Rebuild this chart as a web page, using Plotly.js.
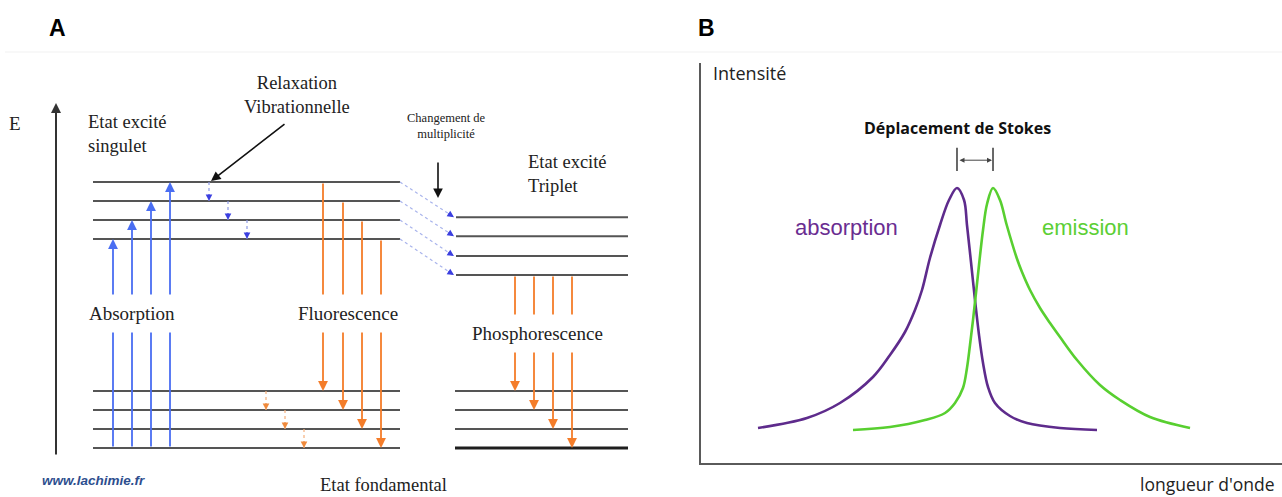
<!DOCTYPE html>
<html><head><meta charset="utf-8">
<script src="https://cdn.plot.ly/plotly-3.0.1.min.js"></script>
<style>html,body{margin:0;padding:0;background:#fff}#chart{width:1282px;height:497px}</style>
</head><body><div id="chart"></div>
<script>
// ---------------- DATA : panel A (energies in vibrational quanta) ----------------
const S0_levels = [0, 1, 2, 3];            // état fondamental
const S1_levels = [11, 12, 13, 14];        // état excité singulet
const T1_levels = [9.1, 10.1, 11.15, 12.15]; // état excité triplet
const absorption_to = [0, 1, 2, 3];        // S0 v0 -> S1 v
const fluorescence_from = [3, 2, 1, 0];    // S1 v -> S0 v
const fluorescence_to = [3, 2, 1, 0];
const phosphorescence_to = [3, 2, 1, 0];   // T1 v0 -> S0 v
const relaxation_from = [3, 2, 1];
const relaxation_to = [2, 1, 0];
const isc_from = [3, 2, 1, 0];             // S1 v -> T1 v
const isc_to = [3, 2, 1, 0];

// ---------------- DATA : panel B (arbitrary units) ----------------
const wavelength_abs = [9.81, 18.24, 23.92, 29.60, 32.53, 35.11, 36.83, 38.04, 39.41, 41.14, 42.69, 44.06,
                        45.27, 45.78, 46.47, 47.16, 47.85, 48.54, 49.40, 50.60, 53.18, 56.11, 61.79, 68.16];
const intensity_abs  = [8.75, 11.25, 15.0, 21.5, 27.0, 32.75, 38.25, 43.25, 51.25, 59.5, 65.75, 68.75,
                        65.75, 59.5, 50.25, 40.75, 32.0, 25.0, 19.0, 15.0, 11.75, 10.0, 8.75, 8.25];
const wavelength_em  = [26.16, 32.53, 38.55, 42.0, 43.72, 45.09, 45.78, 46.30, 46.82, 47.33, 47.85, 48.54, 49.23, 50.26,
                        51.46, 52.62, 54.34, 55.25, 56.63, 58.35, 60.07, 61.79, 64.72, 68.67, 72.12, 77.28, 84.17];
const intensity_em   = [8.25, 9.0, 10.75, 12.5, 15.0, 18.75, 23.75, 29.5, 35.75, 42.5, 49.5, 58.25, 64.75, 68.75,
                        65.75, 59.5, 51.25, 47.75, 43.25, 38.75, 35.0, 31.5, 25.75, 19.5, 15.75, 11.5, 8.75];

// ---------------- LAYOUT CONSTANTS (not data) ----------------
const W = 1282, H = 497;
const eOf = py => (448 - py) / 19;          // page pixel row -> energy axis value (layout helper)
const P = (x, y) => ({x: x / W, y: 1 - y / H});
const pos = {
  leftStart: 93, leftEnd: 400, rightStart: 456, rightEnd: 628,
  absX: [113, 132, 151, 170], fluoX: [323, 343, 362, 381], phosX: [515, 534, 553, 572],
  relaxS1X: [209, 228, 247], relaxS0X: [266, 285, 304], eAxisX: 56
};
const BLUE = '#4a6ef2', ORANGE = '#f47d2a', LEVEL = '#555555';
const SERIF = 'Liberation Serif, Times New Roman, serif';
const SANS = 'Liberation Sans, Arial, sans-serif';
const OPEN = 'Open Sans, Liberation Sans, sans-serif';

const traces = [];
function levelTrace(levels, x0, x1, width, color) {
  const xs = [], ys = [];
  levels.forEach(e => { xs.push(x0, x1, null); ys.push(e, e, null); });
  return {x: xs, y: ys, mode: 'lines', line: {color: color, width: width}, xaxis: 'x', yaxis: 'y', hoverinfo: 'skip'};
}
traces.push(levelTrace(S1_levels, pos.leftStart, pos.leftEnd, 2, LEVEL));
traces.push(levelTrace(S0_levels, pos.leftStart, pos.leftEnd, 2, LEVEL));
traces.push(levelTrace(T1_levels, pos.rightStart, pos.rightEnd, 2, LEVEL));
traces.push(levelTrace(S0_levels.slice(1), pos.rightStart - 1, pos.rightEnd, 2, LEVEL));
traces.push(levelTrace([S0_levels[0]], pos.rightStart - 1, pos.rightEnd, 3, '#1e1e1e'));

function dotted(segs, color) {
  const xs = [], ys = [];
  segs.forEach(s => { xs.push(s[0], s[2], null); ys.push(s[1], s[3], null); });
  return {x: xs, y: ys, mode: 'lines', line: {color: color, width: 1.2, dash: 'dot'}, xaxis: 'x', yaxis: 'y', hoverinfo: 'skip'};
}
traces.push(dotted(relaxation_from.map((f, i) => [pos.relaxS1X[i], S1_levels[f], pos.relaxS1X[i], S1_levels[relaxation_to[i]]]), '#8e9be6'));
traces.push(dotted(relaxation_from.map((f, i) => [pos.relaxS0X[i], S0_levels[f], pos.relaxS0X[i], S0_levels[relaxation_to[i]]]), '#f6b07c'));
traces.push(dotted(isc_from.map((f, i) => [pos.leftEnd, S1_levels[f], pos.rightStart - 2, T1_levels[isc_to[i]]]), '#a9b4ec'));

traces.push({x: wavelength_abs, y: intensity_abs, mode: 'lines', line: {color: '#5e2b8c', width: 2.6, shape: 'spline', smoothing: 1},
             xaxis: 'x2', yaxis: 'y2', hoverinfo: 'skip'});
traces.push({x: wavelength_em, y: intensity_em, mode: 'lines', line: {color: '#58cf30', width: 2.6, shape: 'spline', smoothing: 1},
             xaxis: 'x2', yaxis: 'y2', hoverinfo: 'skip'});
const peakAbs = wavelength_abs[intensity_abs.indexOf(Math.max(...intensity_abs))];
const peakEm = wavelength_em[intensity_em.indexOf(Math.max(...intensity_em))];
traces.push({x: [peakAbs, peakAbs, null, peakEm, peakEm], y: [73, 78.8, null, 73, 78.8], mode: 'lines',
             line: {color: '#444', width: 1.6}, xaxis: 'x2', yaxis: 'y2', hoverinfo: 'skip'});

const ann = [];
function arrow(x, y, ax, ay, color, width, head, size) {
  ann.push({xref: 'x', yref: 'y', axref: 'x', ayref: 'y', x: x, y: y, ax: ax, ay: ay, text: '', showarrow: true,
            arrowcolor: color, arrowwidth: width, arrowhead: head, arrowsize: size, standoff: 0});
}
function head(x, y, ax, ay, color) {
  ann.push({xref: 'x', yref: 'y', x: x, y: y, ax: ax, ay: ay, text: '', showarrow: true,
            arrowcolor: color, arrowwidth: 1.2, arrowhead: 2, arrowsize: 1.1, standoff: 0});
}
arrow(pos.eAxisX, eOf(103), pos.eAxisX, eOf(456), '#333', 2, 2, 1);
absorption_to.forEach((v, i) => arrow(pos.absX[i], S1_levels[v], pos.absX[i], S0_levels[0], BLUE, 1.8, 2, 1.1));
fluorescence_from.forEach((v, i) => arrow(pos.fluoX[i], S0_levels[fluorescence_to[i]], pos.fluoX[i], S1_levels[v], ORANGE, 1.8, 2, 1.1));
phosphorescence_to.forEach((v, i) => arrow(pos.phosX[i], S0_levels[v], pos.phosX[i], T1_levels[0], ORANGE, 1.8, 2, 1.1));
relaxation_to.forEach((v, i) => head(pos.relaxS1X[i], S1_levels[v], 0, -8, '#3b3fe0'));
relaxation_to.forEach((v, i) => head(pos.relaxS0X[i], S0_levels[v], 0, -8, '#f08a3c'));
isc_to.forEach((v, i) => head(pos.rightStart - 2, T1_levels[v], -7, -4.5, '#3b3fe0'));
arrow(211, S1_levels[3] + 0.05, 286, eOf(123), '#111', 1.6, 2, 1.2);
arrow(438, eOf(198), 438, eOf(161), '#111', 1.6, 2, 1.2);
ann.push({xref: 'x2', yref: 'y2', axref: 'x2', ayref: 'y2', x: peakEm, y: 75.7, ax: peakAbs, ay: 75.7, text: '',
          showarrow: true, arrowside: 'end+start', arrowcolor: '#444', arrowwidth: 1, arrowhead: 2, arrowsize: 1, standoff: 1, startstandoff: 1});

function label(text, x, y, font, opts) {
  const p = P(x, y);
  ann.push(Object.assign({xref: 'paper', yref: 'paper', x: p.x, y: p.y, text: text, showarrow: false,
                          xanchor: 'center', yanchor: 'middle', font: font}, opts || {}));
}
label('A', 57, 28, {family: SANS, size: 23, color: '#000', weight: 'bold'});
label('B', 706, 28, {family: SANS, size: 23, color: '#000', weight: 'bold'});
label('E', 15, 124, {family: SERIF, size: 19, color: '#222'});
label('Etat excité<br>singulet', 86, 134, {family: SERIF, size: 18.5, color: '#222'}, {xanchor: 'left', align: 'left'});
label('Relaxation<br>Vibrationnelle', 297, 95, {family: SERIF, size: 18.5, color: '#222'});
label('Changement de<br>multiplicité', 447, 126, {family: SERIF, size: 12.5, color: '#222'});
label('Etat excité<br>Triplet', 526, 174, {family: SERIF, size: 18.5, color: '#222'}, {xanchor: 'left', align: 'left'});
label('Absorption', 132, 313, {family: SERIF, size: 19, color: '#222'}, {bgcolor: '#fff', borderpad: 8});
label('Fluorescence', 348, 313, {family: SERIF, size: 19, color: '#222'}, {bgcolor: '#fff', borderpad: 8});
label('Phosphorescence', 537, 333, {family: SERIF, size: 19, color: '#222'}, {bgcolor: '#fff', borderpad: 8});
label('www.lachimie.fr', 93, 480, {family: SANS, size: 13.5, color: '#2d4e8e', style: 'italic', weight: 'bold'});
label('Etat fondamental', 383, 485, {family: SERIF, size: 18.5, color: '#222'});
label('Intensité', 711, 73, {family: OPEN, size: 18, color: '#222'}, {xanchor: 'left'});
label('Déplacement de Stokes', 957, 128, {family: OPEN, size: 16, color: '#111', weight: 'bold'});
label('absorption', 846, 227, {family: SANS, size: 22, color: '#6a2d91'});
label('emission', 1085, 227, {family: SANS, size: 22, color: '#5ccf35'});
label('longueur d\'onde', 1207, 484, {family: OPEN, size: 17.5, color: '#222'});

const hidden = {visible: false, showgrid: false, zeroline: false, fixedrange: true};
const layout = {
  width: W, height: H, margin: {l: 0, r: 0, t: 0, b: 0, pad: 0},
  paper_bgcolor: '#fff', plot_bgcolor: 'rgba(0,0,0,0)', showlegend: false,
  xaxis: Object.assign({domain: [0, 1], range: [0, W]}, hidden),
  yaxis: Object.assign({domain: [0, 1], range: [eOf(H), eOf(0)]}, hidden),
  xaxis2: {domain: [701 / W, 1], range: [0, 100], anchor: 'y2', showline: true, linecolor: '#5a5a5a', linewidth: 2,
           showgrid: false, zeroline: false, showticklabels: false, ticks: ''},
  yaxis2: {domain: [1 - 463 / H, 1 - 63 / H], range: [0, 100], anchor: 'x2', showline: true, linecolor: '#5a5a5a', linewidth: 2,
           showgrid: false, zeroline: false, showticklabels: false, ticks: ''},
  shapes: [{type: 'line', xref: 'paper', yref: 'paper', x0: 5 / W, x1: 1, y0: 1 - 52 / H, y1: 1 - 52 / H,
            line: {color: '#f1f1f1', width: 1}}],
  annotations: ann
};
Plotly.newPlot('chart', traces, layout, {displayModeBar: false, staticPlot: true});
</script></body></html>
